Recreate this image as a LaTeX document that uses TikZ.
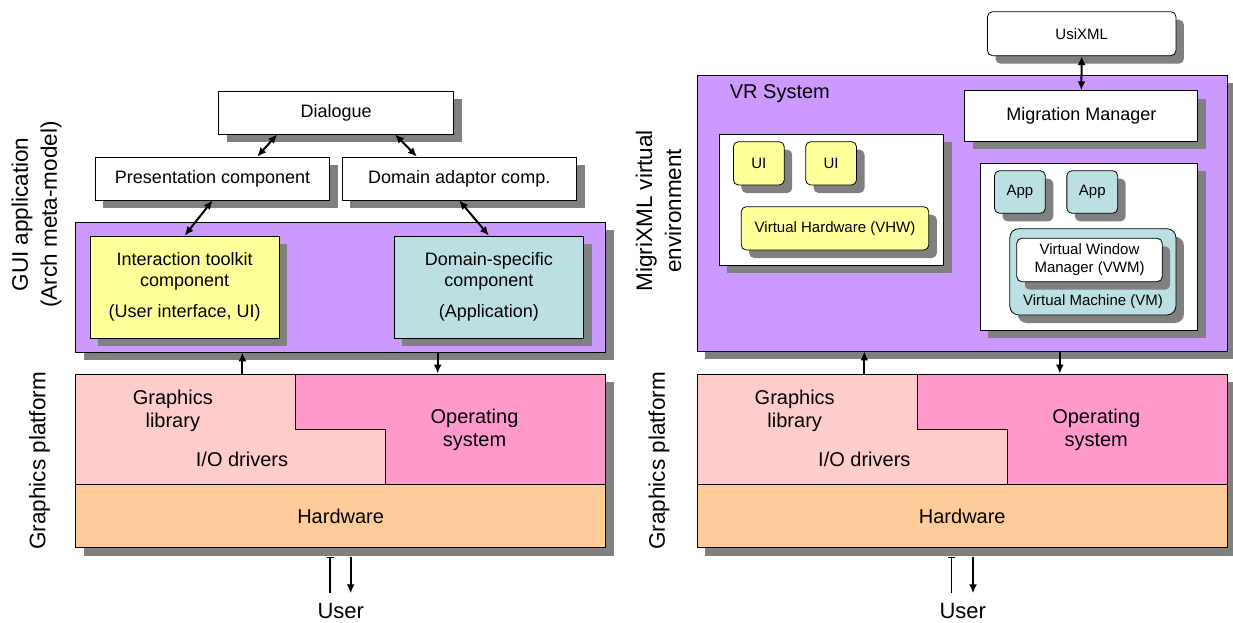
\documentclass[tikz,border=0pt]{standalone}
\usepackage{fontspec}
\setmainfont{Liberation Sans}
\usetikzlibrary{shadows,calc,arrows.meta}

\definecolor{arch}{RGB}{204,153,255}
\definecolor{uiyellow}{RGB}{255,255,153}
\definecolor{appteal}{RGB}{187,224,227}
\definecolor{libpink}{RGB}{255,204,204}
\definecolor{ospink}{RGB}{255,153,204}
\definecolor{hwtan}{RGB}{255,204,153}
\definecolor{shade}{RGB}{128,128,128}

\begin{document}
\begin{tikzpicture}[x=1pt, y=-1pt,
    >={Latex[length=9pt,width=8pt]},
    box/.style={draw, line width=0.8pt, fill=white, inner sep=0pt, align=center,
        font=\fontsize{18}{21}\selectfont,
        drop shadow={shadow xshift=8pt, shadow yshift=-8pt, fill=shade, opacity=1}},
    rbox/.style={rounded corners=5pt},
    small/.style={font=\fontsize{15}{18}\selectfont, align=center},
    layer/.style={font=\fontsize{20}{23.5}\selectfont, align=center},
    side/.style={rotate=90, align=center, font=\fontsize{22.5}{29}\selectfont},
    link/.style={line width=2pt}]
    \useasboundingbox (0,0) rectangle (1233,623);

    % Side labels
    \node[side] (guilbl) at (36.5,214.5) {GUI application\\(Arch meta-model)};
    \node[side] (gpL) at (39.5,460.8) {Graphics platform};
    \node[side] (migrilbl) at (658.5,210.8) {MigriXML virtual\\environment};
    \node[side] (gpR) at (659.1,460.8) {Graphics platform};

    % Arch meta-model
    \node[box, minimum width=234.8pt, minimum height=43pt] (dlg) at (336.1,112.5) {Dialogue};
    \node[box, minimum width=234.5pt, minimum height=43pt] (pres) at (212.55,178.5) {Presentation component};
    \node[box, minimum width=234.5pt, minimum height=43pt] (dad) at (459.25,178.5) {Domain adaptor comp.};
    \node[box, fill=arch, minimum width=530.3pt, minimum height=130pt] (archL) at (340.65,287) {};
    \node[box, fill=uiyellow, minimum width=189pt, minimum height=102pt] (uit) at (184.7,287)
        {Interaction toolkit\\component\\[10pt](User interface, UI)};
    \node[box, fill=appteal, minimum width=189.4pt, minimum height=102pt] (dsc) at (488.9,287)
        {Domain-specific\\component\\[10pt](Application)};

    \draw[link, <->] ($(dlg.south west)!.25!(dlg.south east)$) -- ($(pres.north west)!.69!(pres.north east)$);
    \draw[link, <->] ($(dlg.south west)!.75!(dlg.south east)$) -- ($(dad.north west)!.32!(dad.north east)$);
    \draw[link, <->] (pres.south) -- (uit.north);
    \draw[link, <->] (dad.south) -- (dsc.north);

    % Graphics platform (left)
    \node[box, fill=libpink, minimum width=530.3pt, minimum height=110.3pt] (glibL) at (340.65,429.15) {};
    \filldraw[fill=ospink, line width=0.8pt] (295.4,374) -- (605.8,374) -- (605.8,484.3)
        -- (385.5,484.3) -- (385.5,429.3) -- (295.4,429.3) -- cycle;
    \node[box, fill=hwtan, font=\fontsize{20}{24}\selectfont, minimum width=530.3pt, minimum height=63.4pt]
        (hwL) at (340.65,516) {Hardware};
    \node[layer] (glL) at (172.8,411) {Graphics\\library};
    \node[layer] (ioL) at (242,459.3) {I/O drivers};
    \node[layer] (osL) at (474.5,429.7) {Operating\\system};

    \coordinate (upL) at (242.4,0);
    \coordinate (dnL) at (437.7,0);
    \draw[link, ->] (glibL.north -| upL) -- (archL.south -| upL);
    \draw[link, ->] (archL.south -| dnL) -- (glibL.north -| dnL);

    \node[font=\fontsize{22}{26}\selectfont] (userL) at (340.8,610.7) {User};
    \coordinate (uaL) at (330.2,556.7);
    \coordinate (ubL) at (350.7,556.7);
    \draw[line width=1.6pt, {Bar[width=7pt,line width=1pt]}-] (uaL) -- (uaL |- 0,593.3);
    \draw[link, ->] (ubL) -- (ubL |- 0,593.3);

    % VR System
    \node[box, rbox, small, minimum width=188.4pt, minimum height=44pt] (usi) at (1081.7,33.7) {UsiXML};
    \node[box, fill=arch, minimum width=529.7pt, minimum height=275.7pt] (vrs) at (962.25,213.15) {};
    \node[anchor=west, font=\fontsize{20}{24}\selectfont] (vrlbl) at (726.3,93.3) {VR System};
    \node[box, minimum width=233pt, minimum height=50.6pt] (mig) at (1081.3,116) {Migration Manager};
    \draw[link, <->] (usi.south) -- (mig.north);

    \node[box, minimum width=224.8pt, minimum height=130.7pt] (uiside) at (831.3,199.65) {};
    \node[box, rbox, small, fill=uiyellow, minimum width=50.8pt, minimum height=43.3pt] (ui1) at (758.8,163.35) {UI};
    \node[box, rbox, small, fill=uiyellow, minimum width=50.8pt, minimum height=43.3pt] (ui2) at (831.1,163.35) {UI};
    \node[box, rbox, small, fill=uiyellow, minimum width=187.6pt, minimum height=43.3pt] (vhw) at (835,228.35)
        {Virtual Hardware (VHW)};

    \node[box, minimum width=217.8pt, minimum height=166.7pt] (appside) at (1088.9,246.65) {};
    \node[box, rbox, small, fill=appteal, minimum width=50.8pt, minimum height=42.6pt] (app1) at (1019.9,192) {App};
    \node[box, rbox, small, fill=appteal, minimum width=50.8pt, minimum height=42.6pt] (app2) at (1092.25,192) {App};
    \node[box, fill=appteal, rounded corners=9pt, minimum width=166.1pt, minimum height=86.3pt] (vm) at (1092.85,271.85) {};
    \node[box, rbox, small, minimum width=145.4pt, minimum height=43.4pt] (vwm) at (1089.5,260)
        {Virtual Window\\Manager (VWM)};
    \node[small] (vmlbl) at (1093,301.7) {Virtual Machine (VM)};

    % Graphics platform (right)
    \node[box, fill=libpink, minimum width=529.7pt, minimum height=110.3pt] (glibR) at (962.25,429.15) {};
    \filldraw[fill=ospink, line width=0.8pt] (917.1,374) -- (1227.1,374) -- (1227.1,484.3)
        -- (1007,484.3) -- (1007,429.3) -- (917.1,429.3) -- cycle;
    \node[box, fill=hwtan, font=\fontsize{20}{24}\selectfont, minimum width=529.7pt, minimum height=63.4pt]
        (hwR) at (962.25,516) {Hardware};
    \node[layer] (glR) at (794.7,411) {Graphics\\library};
    \node[layer] (ioR) at (864.3,459.3) {I/O drivers};
    \node[layer] (osR) at (1096.2,429.7) {Operating\\system};

    \coordinate (upR) at (864.3,0);
    \coordinate (dnR) at (1059.8,0);
    \draw[link, ->] (glibR.north -| upR) -- (vrs.south -| upR);
    \draw[link, ->] (vrs.south -| dnR) -- (glibR.north -| dnR);

    \node[font=\fontsize{22}{26}\selectfont] (userR) at (962.8,610.7) {User};
    \coordinate (uaR) at (951.5,556.7);
    \coordinate (ubR) at (973,556.7);
    \draw[line width=1.6pt, {Bar[width=7pt,line width=1pt]}-] (uaR) -- (uaR |- 0,593.3);
    \draw[link, ->] (ubR) -- (ubR |- 0,593.3);
\end{tikzpicture}
\end{document}
